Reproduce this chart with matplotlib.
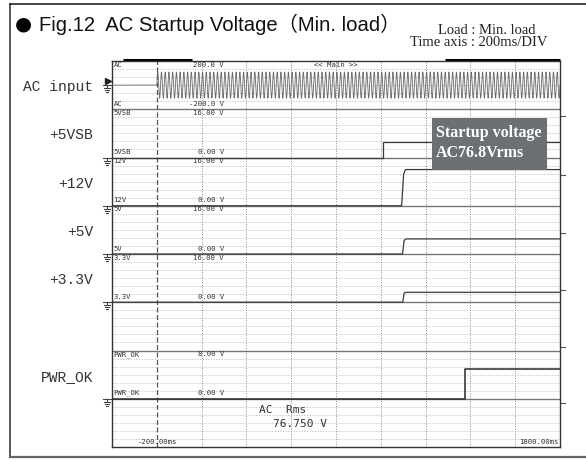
import numpy as np
import matplotlib.pyplot as plt
from matplotlib.patches import Rectangle

# ---- data ----
t_min, t_max = -200, 1800          # ms, 200 ms/DIV
div_ms = 200

band_names = ["AC", "5VSB", "12V", "5V", "3.3V", "", "PWR_OK", ""]
left_labels = ["AC input", "+5VSB", "+12V", "+5V", "+3.3V", "", "PWR_OK", ""]
scale_top = ["200.0 V", "16.00 V", "16.00 V", "16.00 V", "16.00 V", "", "8.00 V", ""]
scale_bot = ["-200.0 V", "0.00 V", "0.00 V", "0.00 V", "0.00 V", "", "0.00 V", ""]
full_scale = [400.0, 16.0, 16.0, 16.0, 16.0, None, 8.0, None]
zero_pos = [0.5, 0.0, 0.0, 0.0, 0.0, None, 0.0, None]

ac_rms = 76.75      # V
ac_freq = 60.0      # Hz
ac_on = 0.0         # ms

vsb_t = [-200, 1010, 1010, 1800]
vsb_v = [0, 0, 5.0, 5.0]
v12_t = [-200, 1093, 1102, 1110, 1800]
v12_v = [0, 0, 10.5, 12.0, 12.0]
v5_t = [-200, 1097, 1104, 1112, 1800]
v5_v = [0, 0, 4.5, 5.0, 5.0]
v33_t = [-200, 1098, 1104, 1112, 1800]
v33_v = [0, 0, 3.0, 3.3, 3.3]
pwr_t = [-200, 1376, 1376, 1800]
pwr_v = [0, 0, 5.0, 5.0]

# ---- figure ----
W, H = 586, 462
fig = plt.figure(figsize=(W / 100, H / 100), dpi=100)
fig.patch.set_facecolor("white")

sx0, sx1, sy0, sy1 = 112, 560, 61, 447
nb = len(band_names)
band_px = (sy1 - sy0) / nb
ms_px = (t_max - t_min) / (sx1 - sx0)

# overlay in pixel coords (y down)
ov = fig.add_axes([0, 0, 1, 1], zorder=0)
ov.set_xlim(0, W)
ov.set_ylim(H, 0)
ov.axis("off")

ax = fig.add_axes([sx0 / W, 1 - sy1 / H, (sx1 - sx0) / W, (sy1 - sy0) / H], zorder=1)
ax.set_xlim(t_min, t_max)
ax.set_ylim(0, nb)
ax.set_xticks([])
ax.set_yticks([])
for s in ax.spines.values():
    s.set_color("#333333")
    s.set_linewidth(1.0)


def yb(i, v):
    return (nb - 1 - i) + zero_pos[i] + v / full_scale[i]


def py(y):
    return sy0 + (nb - y) * band_px


# grid
for k in range(1, nb * 6):
    if k % 6:
        ax.axhline(k / 6, color="#9a9a9a", lw=0.6, ls=(0, (1, 2.2)), zorder=1)
for k in range(1, nb):
    ax.axhline(k, color="#767676", lw=1.0, zorder=2)
for t in np.arange(t_min + div_ms, t_max, div_ms):
    if t == 0:
        ax.axvline(t, color="#555555", lw=0.9, ls=(0, (4, 2)), zorder=2)
    else:
        ax.axvline(t, color="#8a8a8a", lw=0.7, ls=(0, (1, 1.6)), zorder=1)

# AC waveform
t_ac = np.linspace(t_min, t_max, 12000)
v_ac = np.where(t_ac >= ac_on,
                ac_rms * np.sqrt(2) * np.sin(2 * np.pi * ac_freq * (t_ac - ac_on) / 1000), 0)
ax.plot(t_ac, yb(0, v_ac), color="#6a6a6a", lw=0.6, zorder=3)

trace_kw = dict(color="#3a3a3a", lw=0.9, zorder=4)
ax.plot(vsb_t, [yb(1, v) for v in vsb_v], **trace_kw)
ax.plot(v12_t, [yb(2, v) for v in v12_v], **trace_kw)
ax.plot(v5_t, [yb(3, v) for v in v5_v], **trace_kw)
ax.plot(v33_t, [yb(4, v) for v in v33_v], **trace_kw)
ax.plot(pwr_t, [yb(6, v) for v in pwr_v], color="#2a2a2a", lw=1.1, zorder=4)

# screen annotations
small = dict(family="DejaVu Sans Mono", fontsize=5.2, color="#333333", zorder=5)
for i, name in enumerate(band_names):
    if not name:
        continue
    top = nb - i
    bot = nb - 1 - i
    ax.text(t_min + 1.5 * ms_px, top - 0.6 / band_px, name, va="top", ha="left", **small)
    ax.text(t_min + 1.5 * ms_px, bot + 2.5 / band_px, name, va="bottom", ha="left", **small)
    ax.text(300, top - 0.6 / band_px, scale_top[i], va="top", ha="right", **small)
    ax.text(300, bot + 2.5 / band_px, scale_bot[i], va="bottom", ha="right", **small)
ax.text(800, nb - 0.6 / band_px, "<< Main >>", va="top", ha="center", **small)
ax.text(5, 2.5 / band_px, "-200.00ms", va="bottom", ha="center", **small)
ax.text(t_max - 1.5 * ms_px, 2.5 / band_px, "1800.00ms", va="bottom", ha="right", **small)

big = dict(family="DejaVu Sans Mono", fontsize=8, color="#333333", zorder=5)
ax.text(456, 0.767, "AC  Rms", va="center", ha="left", **big)
ax.text(519, 0.477, "%.3f V" % ac_rms, va="center", ha="left", **big)

# startup voltage box
ax.add_patch(Rectangle((1228, 5.741), 514, 1.078, facecolor="#6a7073",
                       edgecolor="none", zorder=6))
ax.text(1245, 6.50, "Startup voltage", family="Liberation Serif", weight="bold",
        fontsize=11.5, color="white", va="center", ha="left", zorder=7)
ax.text(1245, 6.10, "AC%.1fVrms" % 76.8, family="Liberation Serif", weight="bold",
        fontsize=11.5, color="white", va="center", ha="left", zorder=7)

# outer frame
fc = "#3a3a3a"
ov.plot([10, 10], [4, 457], color=fc, lw=1.2)
ov.plot([10, W], [4, 4], color="#222222", lw=1.2)
ov.plot([10, W], [457, 457], color="#666666", lw=1.6)

# zoom bars on top of the screen
ov.plot([123, 192], [59.5, 59.5], color="black", lw=2.2, solid_capstyle="butt")
ov.plot([445, 560], [59.5, 59.5], color="black", lw=2.2, solid_capstyle="butt")

# right edge ticks
for y in [116, 175, 233, 290, 347, 403]:
    ov.plot([sx1, sx1 + 5], [y, y], color="#555555", lw=0.8)

# ground symbols
gc = "#444444"


def ground(y):
    ov.plot([103, sx0], [y, y], color=gc, lw=0.8)
    ov.plot([106.5, 106.5], [y, y + 3], color=gc, lw=0.8)
    for dy, hw in [(3, 3.0), (5, 2.0), (7, 1.0)]:
        ov.plot([106.5 - hw, 106.5 + hw], [y + dy, y + dy], color=gc, lw=0.8)


for i, name in enumerate(band_names):
    if name:
        ground(py(yb(i, 0)))
ov.plot([107.5], [py(yb(0, 0)) - 4], marker=">", color="#222222", markersize=4.5)

# left channel labels
for i, lab in enumerate(left_labels):
    if lab:
        ov.text(93, py(nb - 0.5 - i) + 2, lab, family="Liberation Mono", fontsize=10.5,
                color="#333333", ha="right", va="center")

# title and header
ov.text(15, 24, "\u25cf", family="DejaVu Sans", fontsize=14, color="black",
        ha="left", va="center")
ov.text(39, 24, "Fig.12  AC Startup Voltage\uff08Min. load\uff09",
        family=["Liberation Sans", "Noto Sans CJK JP"], fontsize=14.6, color="#111111",
        ha="left", va="center")
ov.text(487, 30, "Load : Min. load", family="Liberation Serif", fontsize=10.5,
        color="#222222", ha="center", va="center")
ov.text(479, 43, "Time axis : 200ms/DIV", family="Liberation Serif", fontsize=10.5,
        color="#222222", ha="center", va="center")

fig.savefig("out.png", dpi=100, facecolor="white")
